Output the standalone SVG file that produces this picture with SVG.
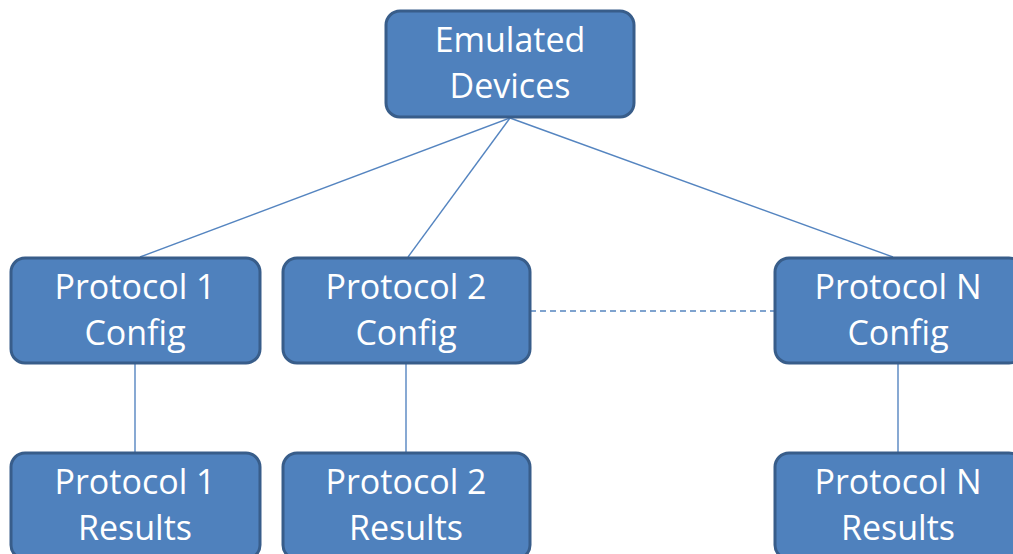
<svg xmlns="http://www.w3.org/2000/svg" width="1013" height="554" viewBox="0 0 1013 554">
<style>
.box{fill:#4F81BD;stroke:#385D8A;stroke-width:3}
.t{fill:#fff;font-family:"Open Sans","Liberation Sans",sans-serif;font-size:34px;text-anchor:middle}
.c{stroke:#5585C0;stroke-width:1.4;fill:none}
.d{stroke:#5585C0;stroke-width:1.6;fill:none;stroke-dasharray:6 4}
</style>
<rect width="1013" height="554" fill="#fff"/>
<g id="connectors">
<line class="c" x1="510" y1="118" x2="140" y2="257"/>
<line class="c" x1="510" y1="118" x2="408" y2="257"/>
<line class="c" x1="510" y1="118" x2="893" y2="257"/>
<line class="c" x1="135" y1="363" x2="135" y2="453"/>
<line class="c" x1="406" y1="363" x2="406" y2="453"/>
<line class="c" x1="898" y1="363" x2="898" y2="453"/>
<line class="d" x1="530" y1="311" x2="775" y2="311"/>
</g>
<g id="emulated">
<rect class="box" x="386" y="11" width="248" height="106" rx="14"/>
<text class="t" x="510" y="52">Emulated</text>
<text class="t" x="510" y="98">Devices</text>
</g>
<g id="config1">
<rect class="box" x="11" y="258" width="249" height="105" rx="14"/>
<text class="t" x="135" y="299">Protocol 1</text>
<text class="t" x="135" y="345">Config</text>
</g>
<g id="config2">
<rect class="box" x="283" y="258" width="247" height="105" rx="14"/>
<text class="t" x="406" y="299">Protocol 2</text>
<text class="t" x="406" y="345">Config</text>
</g>
<g id="configN">
<rect class="box" x="775" y="258" width="248" height="105" rx="14"/>
<text class="t" x="898" y="299">Protocol N</text>
<text class="t" x="898" y="345">Config</text>
</g>
<g id="results1">
<rect class="box" x="11" y="453" width="249" height="106" rx="14"/>
<text class="t" x="135" y="494">Protocol 1</text>
<text class="t" x="135" y="540">Results</text>
</g>
<g id="results2">
<rect class="box" x="283" y="453" width="247" height="106" rx="14"/>
<text class="t" x="406" y="494">Protocol 2</text>
<text class="t" x="406" y="540">Results</text>
</g>
<g id="resultsN">
<rect class="box" x="775" y="453" width="248" height="106" rx="14"/>
<text class="t" x="898" y="494">Protocol N</text>
<text class="t" x="898" y="540">Results</text>
</g>
</svg>
